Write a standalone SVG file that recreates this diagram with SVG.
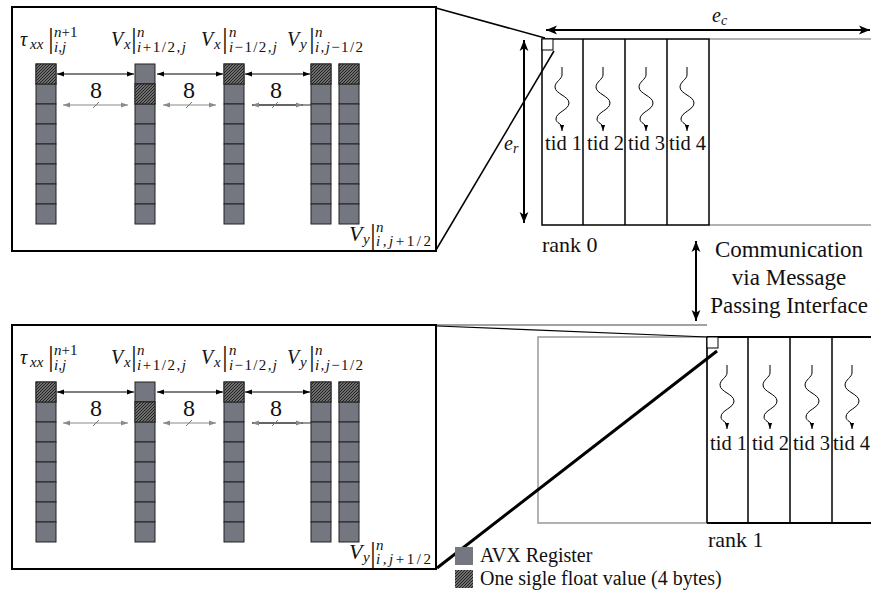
<svg xmlns="http://www.w3.org/2000/svg" width="871" height="594" viewBox="0 0 871 594">
<style>
.mi{font-family:"Liberation Serif","Times New Roman",serif;font-style:italic;fill:#111}
.rm{font-family:"Liberation Serif","Times New Roman",serif;fill:#111}
.b19{font-size:20px}
.s13{font-size:15px}
.bar{font-family:"Liberation Serif",serif;font-size:29px;fill:#111}
.tid{font-family:"Liberation Serif","Times New Roman",serif;font-size:20.5px;fill:#111}
.big{font-family:"Liberation Serif","Times New Roman",serif;font-size:22px;fill:#111}
.cell{fill:#757780;stroke:#222;stroke-width:1}
.hat{fill:url(#hatch);stroke:#222;stroke-width:1}
.frame{fill:none;stroke:#000;stroke-width:2}
.blk{stroke:#000;stroke-width:1.2;fill:none}
.gry{stroke:#8a8a8a;stroke-width:1.2;fill:none}
.thk{stroke:#000;stroke-width:2;fill:none}
.wave{stroke:#000;stroke-width:1;fill:none}
</style>
<defs>
<pattern id="hatch" patternUnits="userSpaceOnUse" width="3" height="3">
<rect width="3" height="3" fill="#6e6e6e"/>
<path d="M-1,1 L1,-1 M0,3 L3,0 M2,4 L4,2" stroke="#1a1a1a" stroke-width="0.9"/>
</pattern>
<marker id="ah" viewBox="0 0 10 10" refX="10" refY="5" markerWidth="6" markerHeight="6" orient="auto-start-reverse"><path d="M0,1.5 L10,5 L0,8.5 z" fill="#000"/></marker>
<marker id="ahg" viewBox="0 0 10 10" refX="10" refY="5" markerWidth="6" markerHeight="6" orient="auto-start-reverse"><path d="M0,1.5 L10,5 L0,8.5 z" fill="#8a8a8a"/></marker>
<marker id="aht" viewBox="0 0 10 10" refX="10" refY="5" markerWidth="5.5" markerHeight="5.5" orient="auto-start-reverse"><path d="M0,1 L10,5 L0,9 L2.5,5 z" fill="#000"/></marker>
<g id="col">
<rect class="cell" x="0" y="0" width="20" height="20"/>
<rect class="cell" x="0" y="20" width="20" height="20"/>
<rect class="cell" x="0" y="40" width="20" height="20"/>
<rect class="cell" x="0" y="60" width="20" height="20"/>
<rect class="cell" x="0" y="80" width="20" height="20"/>
<rect class="cell" x="0" y="100" width="20" height="20"/>
<rect class="cell" x="0" y="120" width="20" height="20"/>
<rect class="cell" x="0" y="140" width="20" height="20"/>
</g>
<path id="wv" d="M0,0 L0,8 C0,12 -7,15 -7,20 C-7,27 7,29 7,36 C7,43 -6,45 -6,52 C-6,56 0,57 0,60 L0,64" class="wave" marker-end="url(#ah)"/>
<g id="panel">
<rect class="frame" x="12" y="7" width="424" height="244"/>
<g id="lbl-tau">
<text class="mi b19" x="20" y="46">τ</text>
<text class="mi s13" x="30" y="49">xx</text>
<text class="bar" x="48" y="48">|</text>
<text class="s13" x="54" y="37"><tspan class="mi">n</tspan><tspan class="rm">+1</tspan></text>
<text class="mi s13" x="54" y="52">i,j</text>
</g>
<g id="lbl-vx1">
<text class="mi b19" x="111" y="46">V</text>
<text class="mi s13" x="124" y="49">x</text>
<text class="bar" x="131" y="48">|</text>
<text class="mi s13" x="137" y="37">n</text>
<text class="s13" x="137" y="52" textLength="49" lengthAdjust="spacing"><tspan class="mi">i</tspan><tspan class="rm">+1/2,</tspan><tspan class="mi">j</tspan></text>
</g>
<g id="lbl-vx2">
<text class="mi b19" x="201" y="46">V</text>
<text class="mi s13" x="214" y="49">x</text>
<text class="bar" x="222" y="48">|</text>
<text class="mi s13" x="229" y="37">n</text>
<text class="s13" x="229" y="52" textLength="48" lengthAdjust="spacing"><tspan class="mi">i</tspan><tspan class="rm">−1/2,</tspan><tspan class="mi">j</tspan></text>
</g>
<g id="lbl-vy1">
<text class="mi b19" x="287" y="46">V</text>
<text class="mi s13" x="300" y="49">y</text>
<text class="bar" x="309" y="48">|</text>
<text class="mi s13" x="315" y="37">n</text>
<text class="s13" x="315" y="52" textLength="48" lengthAdjust="spacing"><tspan class="mi">i,j</tspan><tspan class="rm">−1/2</tspan></text>
</g>
<g id="lbl-vy2">
<text class="mi" font-size="22" x="349" y="241">V</text>
<text class="mi s13" x="363" y="244">y</text>
<text class="bar" x="370" y="244">|</text>
<text class="mi s13" x="376" y="232">n</text>
<text class="s13" x="376" y="246" textLength="55" lengthAdjust="spacing"><tspan class="mi">i,j</tspan><tspan class="rm">+1/2</tspan></text>
</g>
<g id="reg1"><use href="#col" x="36" y="64"/><rect class="hat" x="36" y="64" width="20" height="20"/></g>
<g id="reg2"><use href="#col" x="135" y="64"/><rect class="hat" x="135" y="84" width="20" height="20"/></g>
<g id="reg3"><use href="#col" x="224" y="64"/><rect class="hat" x="224" y="64" width="20" height="20"/></g>
<g id="reg4"><use href="#col" x="311" y="64"/><rect class="hat" x="311" y="64" width="20" height="20"/></g>
<g id="reg5"><use href="#col" x="339" y="64"/><rect class="hat" x="339" y="64" width="20" height="20"/></g>
<g id="spacing">
<line class="blk" x1="57" y1="74" x2="134" y2="74" marker-start="url(#ah)" marker-end="url(#ah)"/>
<line class="blk" x1="157" y1="74" x2="223" y2="74" marker-start="url(#ah)" marker-end="url(#ah)"/>
<line class="blk" x1="245" y1="74" x2="310" y2="74" marker-start="url(#ah)" marker-end="url(#ah)"/>
<line class="gry" x1="63" y1="105" x2="128" y2="105" marker-start="url(#ahg)" marker-end="url(#ahg)"/>
<line class="gry" x1="163" y1="105" x2="216" y2="105" marker-start="url(#ahg)" marker-end="url(#ahg)"/>
<line stroke="#333" stroke-width="1.2" x1="252" y1="105" x2="311" y2="105"/>
<line stroke="#333" stroke-width="1.2" x1="252" y1="105" x2="303" y2="105" marker-start="url(#ahg)" marker-end="url(#ahg)"/>
<path d="M93,108 L99,102 M186,108 L192,102 M272,108 L278,102" stroke="#777" stroke-width="1"/>
<text class="rm" font-size="24" x="96" y="98" text-anchor="middle">8</text>
<text class="rm" font-size="24" x="189" y="98" text-anchor="middle">8</text>
<text class="rm" font-size="24" x="276" y="98" text-anchor="middle">8</text>
</g>
</g>
</defs>

<g id="detail-rank0"><use href="#panel"/></g>
<g id="detail-rank1"><use href="#panel" y="318"/></g>

<g id="rank0">
<line x1="709" y1="39" x2="871" y2="39" stroke="#999" stroke-width="1.5"/>
<line x1="709" y1="225" x2="871" y2="225" stroke="#999" stroke-width="1.5"/>
<rect x="542" y="39" width="167" height="186" fill="none" stroke="#000" stroke-width="1.5"/>
<line x1="583" y1="39" x2="583" y2="225" stroke="#000" stroke-width="1.5"/>
<line x1="625" y1="39" x2="625" y2="225" stroke="#000" stroke-width="1.5"/>
<line x1="667" y1="39" x2="667" y2="225" stroke="#000" stroke-width="1.5"/>
<rect x="542" y="39" width="11" height="11" fill="#fff" stroke="#000" stroke-width="1"/>
<use href="#wv" x="562" y="67"/>
<use href="#wv" x="603" y="67"/>
<use href="#wv" x="646" y="67"/>
<use href="#wv" x="687" y="67"/>
<text class="tid" x="545" y="150">tid 1</text>
<text class="tid" x="587" y="150">tid 2</text>
<text class="tid" x="628" y="150">tid 3</text>
<text class="tid" x="669" y="150">tid 4</text>
<text class="big" x="542" y="252">rank 0</text>
</g>

<g id="dims">
<line class="thk" x1="546" y1="30" x2="870" y2="30" marker-start="url(#aht)" marker-end="url(#aht)"/>
<text class="mi" font-size="20" x="712" y="22">e<tspan font-size="14" dy="3">c</tspan></text>
<line class="thk" x1="524" y1="40" x2="524" y2="223" marker-start="url(#aht)" marker-end="url(#aht)"/>
<text class="mi" font-size="20" x="504" y="150">e<tspan font-size="14" dy="3">r</tspan></text>
</g>

<g id="rank1">
<rect x="538" y="337" width="169" height="186" fill="none" stroke="#999" stroke-width="1.5"/>
<line x1="707" y1="337" x2="871" y2="337" stroke="#000" stroke-width="2"/>
<line x1="707" y1="523" x2="871" y2="523" stroke="#000" stroke-width="2"/>
<line x1="707" y1="337" x2="707" y2="523" stroke="#000" stroke-width="1.5"/>
<line x1="748" y1="337" x2="748" y2="523" stroke="#000" stroke-width="1.5"/>
<line x1="790" y1="337" x2="790" y2="523" stroke="#000" stroke-width="1.5"/>
<line x1="832" y1="337" x2="832" y2="523" stroke="#000" stroke-width="1.5"/>
<rect x="707" y="337" width="11" height="11" fill="#fff" stroke="#000" stroke-width="1"/>
<use href="#wv" x="727" y="365"/>
<use href="#wv" x="770" y="365"/>
<use href="#wv" x="812" y="365"/>
<use href="#wv" x="852" y="365"/>
<text class="tid" x="710" y="450">tid 1</text>
<text class="tid" x="752" y="450">tid 2</text>
<text class="tid" x="793" y="450">tid 3</text>
<text class="tid" x="833" y="450">tid 4</text>
<text class="big" x="708" y="547">rank 1</text>
</g>

<g id="connectors">
<line x1="436" y1="8" x2="545" y2="38" stroke="#000" stroke-width="1.5"/>
<line x1="554" y1="51" x2="436" y2="250" stroke="#000" stroke-width="1.5"/>
<line x1="437" y1="325" x2="707" y2="325" stroke="#444" stroke-width="1.2"/>
<line x1="437" y1="326" x2="708" y2="337" stroke="#000" stroke-width="1.2"/>
<line x1="717" y1="351" x2="437" y2="568" stroke="#000" stroke-width="3"/>
<line class="thk" x1="696" y1="241" x2="696" y2="321" marker-start="url(#aht)" marker-end="url(#aht)"/>
</g>

<g id="mpi-label">
<text class="rm" font-size="23" x="789" y="257" text-anchor="middle">Communication</text>
<text class="rm" font-size="23" x="789" y="285" text-anchor="middle">via Message</text>
<text class="rm" font-size="23" x="789" y="313" text-anchor="middle">Passing Interface</text>
</g>

<g id="legend">
<rect x="455" y="547" width="18" height="18" fill="#757780"/>
<text class="rm" font-size="20" x="480" y="562">AVX Register</text>
<rect x="455" y="570" width="18" height="18" fill="url(#hatch)"/>
<text class="rm" font-size="20" x="480" y="585">One sigle float value (4 bytes)</text>
</g>
</svg>
